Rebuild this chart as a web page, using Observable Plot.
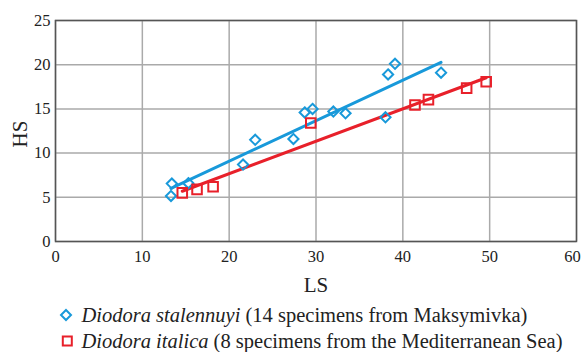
<!DOCTYPE html>
<html>
<head>
<meta charset="utf-8">
<script src="https://cdn.jsdelivr.net/npm/d3@7"></script>
<script src="https://cdn.jsdelivr.net/npm/@observablehq/plot@0.6"></script>
<style>
  body { margin: 0; background: #fff; font-family: "Liberation Serif", "Times New Roman", serif; }
  #chart svg { display: block; }
  .legend { padding-left: 59px; padding-top: 5.5px; font-size: 20.5px; color: #222; }
  .legend .row { height: 26px; line-height: 26px; display: flex; align-items: center; white-space: nowrap; }
  .legend svg { width: 14px; height: 14px; margin-right: 8.5px; flex: none; }
</style>
</head>
<body>
<div id="chart"></div>
<div class="legend" id="legend"></div>
<script>
// Diodora stalennuyi (blue diamonds)
const stalLS = [13.4, 13.3, 15.3, 21.6, 23.0, 27.4, 28.7, 29.6, 32.0, 33.4, 38.0, 38.3, 39.1, 44.4];
const stalHS = [6.55, 5.15, 6.6, 8.7, 11.5, 11.6, 14.6, 15.0, 14.7, 14.5, 14.05, 18.9, 20.1, 19.1];
// Diodora italica (red squares)
const italLS = [14.6, 16.3, 18.15, 29.4, 41.4, 42.95, 47.35, 49.6];
const italHS = [5.5, 5.9, 6.2, 13.4, 15.45, 16.05, 17.35, 18.07];

const xTicks = [0, 10, 20, 30, 40, 50, 60];
const yTicks = [0, 5, 10, 15, 20, 25];

const seriesNames = ["Diodora stalennuyi", "Diodora italica"];
const seriesNotes = [" (14 specimens from Maksymivka)", " (8 specimens from the Mediterranean Sea)"];
const colors = ["#1899da", "#e8202a"];

const stal = stalLS.map((v, i) => ({LS: v, HS: stalHS[i]}));
const ital = italLS.map((v, i) => ({LS: v, HS: italHS[i]}));

const tickFont = 16.5;
const plot = Plot.plot({
  width: 581,
  height: 296,
  marginLeft: 55,
  marginRight: 5,
  marginTop: 20,
  marginBottom: 55,
  style: {fontFamily: "Liberation Serif", fontSize: "16.5px", color: "#222", background: "#fff"},
  x: {domain: [0, 60], label: null},
  y: {domain: [0, 25], label: null},
  marks: [
    Plot.gridX(xTicks, {stroke: "#aaa", strokeOpacity: 1, strokeWidth: 1.5}),
    Plot.gridY(yTicks, {stroke: "#aaa", strokeOpacity: 1, strokeWidth: 1.5}),
    Plot.frame({stroke: "#555", strokeWidth: 1.5}),
    Plot.axisX(xTicks.filter((t) => t < 60), {tickSize: 0, tickPadding: 9, fontSize: tickFont, label: null}),
    Plot.axisX(xTicks.filter((t) => t >= 60), {tickSize: 0, tickPadding: 9, fontSize: tickFont, label: null, dx: -4}),
    Plot.axisY(yTicks, {tickSize: 0, tickPadding: 5, fontSize: tickFont, label: null}),
    Plot.linearRegressionY(stal, {x: "LS", y: "HS", stroke: colors[0], strokeWidth: 3, ci: 0}),
    Plot.linearRegressionY(ital, {x: "LS", y: "HS", stroke: colors[1], strokeWidth: 3, ci: 0}),
    Plot.dot(stal, {x: "LS", y: "HS", symbol: "diamond2", r: 4.6, stroke: colors[0], strokeWidth: 2, fill: "none"}),
    Plot.dot(ital, {x: "LS", y: "HS", symbol: "square", r: 5.4, stroke: colors[1], strokeWidth: 2, fill: "none"}),
    Plot.text(["LS"], {frameAnchor: "bottom", lineAnchor: "middle", textAnchor: "middle", dy: 44, fontSize: 21, fill: "#222"}),
    Plot.text(["HS"], {frameAnchor: "left", lineAnchor: "middle", textAnchor: "middle", dx: -35, dy: 3, rotate: -90, fontSize: 21, fill: "#222"})
  ]
});
document.getElementById("chart").appendChild(plot);

const legend = document.getElementById("legend");
const shapes = [
  `<svg viewBox="-7 -7 14 14"><path d="M0,-5L5,0L0,5L-5,0Z" fill="none" stroke="${colors[0]}" stroke-width="2"/></svg>`,
  `<svg viewBox="-7 -7 14 14"><rect x="-3.2" y="-4.5" width="9" height="9" fill="none" stroke="${colors[1]}" stroke-width="2"/></svg>`
];
seriesNames.forEach((n, i) => {
  const row = document.createElement("div");
  row.className = "row";
  row.innerHTML = shapes[i] + `<span><i>${n}</i>${seriesNotes[i]}</span>`;
  legend.appendChild(row);
});
</script>
</body>
</html>
